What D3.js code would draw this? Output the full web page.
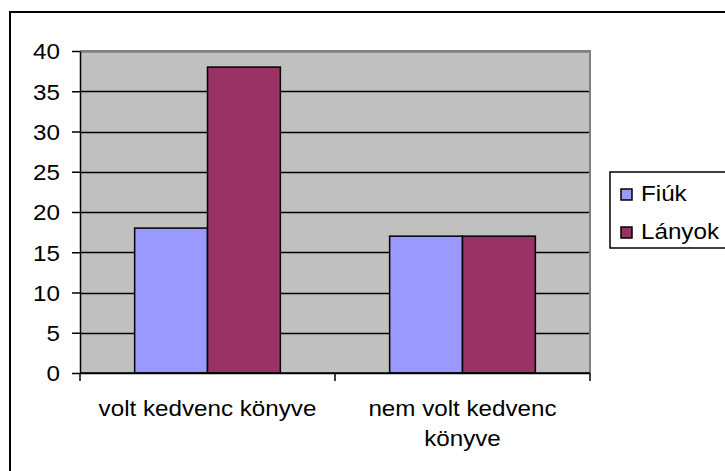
<!DOCTYPE html>
<html lang="hu">
<head>
    <meta charset="UTF-8">
    <title>Kedvenc könyv</title>
    <script src="https://d3js.org/d3.v7.min.js"></script>
    <style>
        body {
            margin: 0;
            background: #ffffff;
            font-family: Arial, "Liberation Sans", sans-serif;
        }
        svg text {
            font-size: 22px;
            fill: #000;
        }
    </style>
</head>
<body>
    <svg id="chart" width="725" height="471"></svg>

    <script>
        const categories = ["volt kedvenc könyve", "nem volt kedvenc könyve"];
        const categoryLines = [["volt kedvenc könyve"], ["nem volt kedvenc", "könyve"]];
        const seriesNames = ["Fiúk", "Lányok"];
        const fiuk = [18, 17];
        const lanyok = [38, 17];
        const yTicks = [0, 5, 10, 15, 20, 25, 30, 35, 40];
        const colors = ["#9999ff", "#993366"];

        const plot = { left: 80, right: 590, top: 51, bottom: 373 };
        const stretch = "scale(1.1,1)";   // Excel-style wide text

        const svg = d3.select("#chart");

        // outer chart frame (cropped at the right and bottom)
        svg.append("rect")
            .attr("x", 10).attr("y", 12)
            .attr("width", 740).attr("height", 480)
            .attr("fill", "none")
            .attr("stroke", "#000")
            .attr("stroke-width", 2);

        const x = d3.scaleBand()
            .domain(categories)
            .range([plot.left, plot.right]);

        const xSeries = d3.scaleBand()
            .domain(seriesNames)
            .range([0, x.bandwidth()])
            .paddingInner(0)
            .paddingOuter(0.75);

        const y = d3.scaleLinear()
            .domain([0, 40])
            .range([plot.bottom, plot.top]);

        // plot area
        svg.append("rect")
            .attr("x", plot.left).attr("y", plot.top)
            .attr("width", plot.right - plot.left)
            .attr("height", plot.bottom - plot.top)
            .attr("fill", "#c0c0c0");

        // gridlines
        svg.append("g")
            .selectAll("line")
            .data(yTicks)
            .join("line")
            .attr("x1", plot.left).attr("x2", plot.right)
            .attr("y1", d => Math.round(y(d)) + 0.5).attr("y2", d => Math.round(y(d)) + 0.5)
            .attr("stroke", "#000")
            .attr("stroke-width", 1.5);

        // plot border top/right (grey)
        svg.append("path")
            .attr("d", `M${plot.left},${plot.top}H${plot.right}V${plot.bottom}`)
            .attr("fill", "none")
            .attr("stroke", "#808080")
            .attr("stroke-width", 2);

        // bars
        const rows = categories.map((c, i) => ({ cat: c, values: [fiuk[i], lanyok[i]] }));

        svg.append("g")
            .selectAll("g")
            .data(rows)
            .join("g")
            .attr("transform", d => `translate(${x(d.cat)},0)`)
            .selectAll("rect")
            .data(d => d.values.map((v, j) => ({ name: seriesNames[j], value: v, color: colors[j] })))
            .join("rect")
            .attr("x", d => xSeries(d.name))
            .attr("y", d => y(d.value))
            .attr("width", xSeries.bandwidth())
            .attr("height", d => y(0) - y(d.value))
            .attr("fill", d => d.color)
            .attr("stroke", "#000")
            .attr("stroke-width", 1.5);

        // y axis
        const yAxis = svg.append("g")
            .attr("transform", `translate(${plot.left},0)`)
            .call(d3.axisLeft(y).tickValues(yTicks).tickSize(8).tickSizeOuter(0));
        yAxis.select(".domain").attr("stroke", "#000").attr("stroke-width", 1.5);
        yAxis.selectAll(".tick line").attr("stroke", "#000").attr("stroke-width", 1.5);
        yAxis.selectAll(".tick text")
            .attr("x", 0)
            .attr("dy", "0.36em")
            .attr("transform", `translate(-20,0) ${stretch}`)
            .style("font-size", "22px")
            .style("font-family", "Arial, 'Liberation Sans', sans-serif");

        // x axis line and category ticks
        svg.append("line")
            .attr("x1", plot.left).attr("x2", plot.right)
            .attr("y1", y(0)).attr("y2", y(0))
            .attr("stroke", "#000").attr("stroke-width", 1.5);

        const xEdges = categories.map(c => x(c)).concat([plot.right]);
        svg.append("g")
            .selectAll("line")
            .data(xEdges)
            .join("line")
            .attr("x1", d => d).attr("x2", d => d)
            .attr("y1", y(0)).attr("y2", y(0) + 8)
            .attr("stroke", "#000").attr("stroke-width", 1.5);

        // category labels
        svg.append("g")
            .selectAll("text")
            .data(categories)
            .join("text")
            .attr("transform", d => `translate(${x(d) + x.bandwidth() / 2},${y(0) + 43}) ${stretch}`)
            .attr("text-anchor", "middle")
            .selectAll("tspan")
            .data((d, i) => categoryLines[i])
            .join("tspan")
            .attr("x", 0)
            .attr("dy", (d, i) => i === 0 ? 0 : 30)
            .text(d => d);

        // legend
        const legend = svg.append("g");
        legend.append("rect")
            .attr("x", 610).attr("y", 172)
            .attr("width", 140).attr("height", 76)
            .attr("fill", "#fff")
            .attr("stroke", "#000")
            .attr("stroke-width", 1.5);

        const items = legend.selectAll("g.item")
            .data(seriesNames)
            .join("g")
            .attr("class", "item")
            .attr("transform", (d, i) => `translate(621,${189 + i * 38})`);

        items.append("rect")
            .attr("width", 11).attr("height", 11)
            .attr("fill", (d, i) => colors[i])
            .attr("stroke", "#000")
            .attr("stroke-width", 1.5);

        items.append("text")
            .attr("transform", `translate(20,12) ${stretch}`)
            .text(d => d);
    </script>
</body>
</html>
